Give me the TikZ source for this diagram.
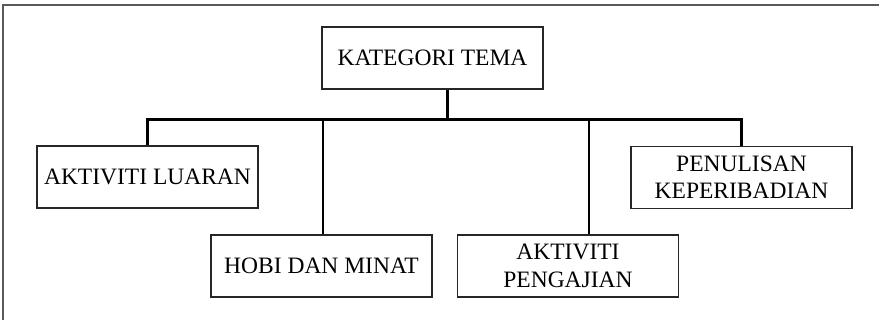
\documentclass[tikz,border=0pt]{standalone}
\usepackage{fontspec}
\setmainfont{Liberation Serif}
\usepackage{tikz}

\begin{document}
\begin{tikzpicture}[
    x=1pt,y=-1pt,
    box/.style={draw=black!85,line width=1.1pt,minimum width=221pt,minimum height=62pt,inner sep=0pt,align=center,font=\fontsize{23.5}{27.5}\selectfont},
    link/.style={black,line width=2.3pt}
    ]
    \useasboundingbox (0,0) rectangle (879,320);
    \draw[black!65,line width=1.7pt] (879,5) -| (3,320);
    \node[box] (kat) at (432.5,58) {KATEGORI TEMA};
    \node[box] (luar) at (147.5,177) {AKTIVITI LUARAN};
    \node[box] (hobi) at (321.5,266) {HOBI DAN MINAT};
    \node[box] (kaji) at (568,266) {AKTIVITI\\PENGAJIAN};
    \node[box] (tulis) at (741.5,177.5) {PENULISAN\\KEPERIBADIAN};
    \draw[link] ([xshift=15]kat.south) -- ++(0,30) coordinate (j);
    \draw[link] (luar.north) -- (luar.north |- j) -- (tulis.north |- j) -- (tulis.north);
    \draw[link] ([xshift=1.5]hobi.north |- j) -- ([xshift=1.5]hobi.north);
    \draw[link] ([xshift=21]kaji.north |- j) -- ([xshift=21]kaji.north);
  \end{tikzpicture}
\end{document}
